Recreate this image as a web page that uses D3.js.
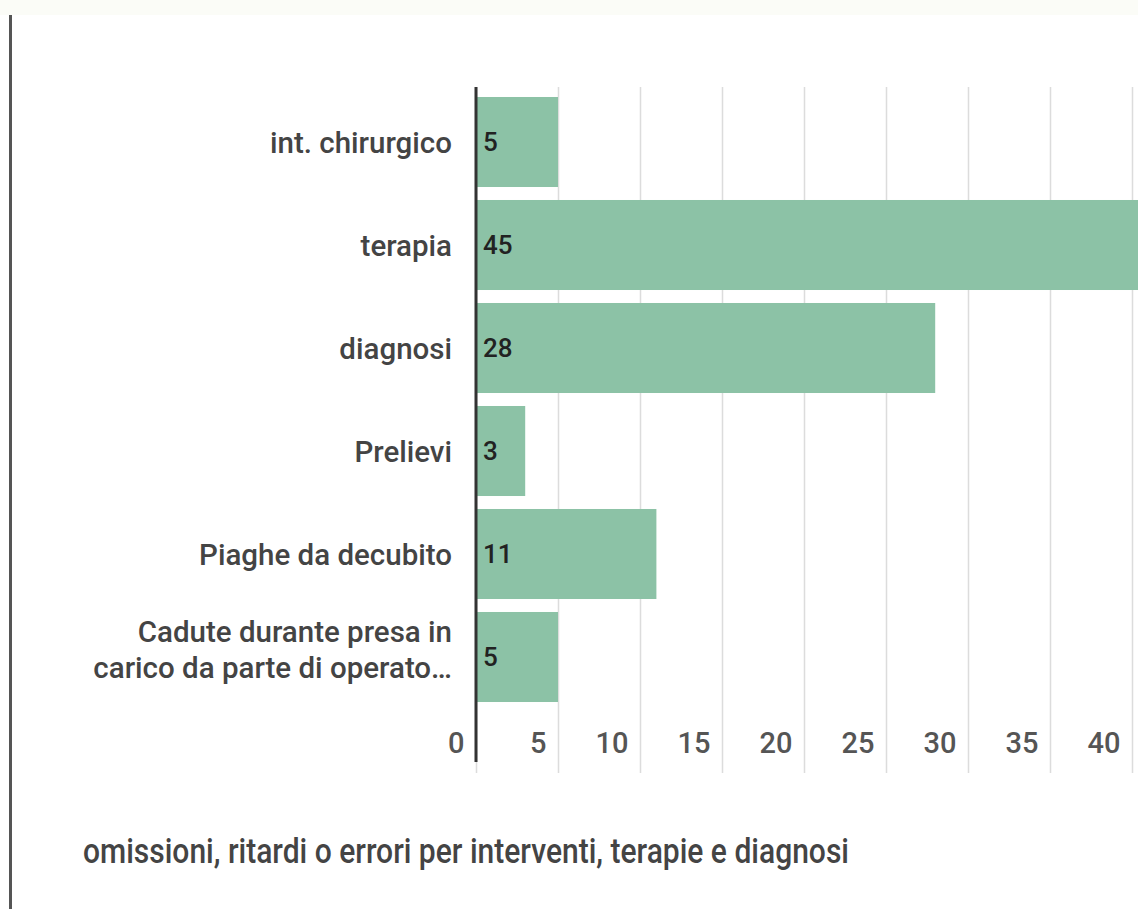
<!DOCTYPE html>
<html>
<head>
<meta charset="utf-8">
<script src="https://cdn.jsdelivr.net/npm/d3@7"></script>
<style>
  body { margin: 0; background: #ffffff; }
  svg { display: block; font-family: Roboto, "Noto Sans", sans-serif; }
</style>
</head>
<body>
<svg id="chart" width="1138" height="909"></svg>
<script>
// Categories (top to bottom) and their counts
const categories = [
  "int. chirurgico",
  "terapia",
  "diagnosi",
  "Prelievi",
  "Piaghe da decubito",
  "Cadute durante presa in carico da parte di operato…"
];
const values = [5, 45, 28, 3, 11, 5];
const tickValues = [0, 5, 10, 15, 20, 25, 30, 35, 40];
const title = "omissioni, ritardi o errori per interventi, terapie e diagnosi";

const W = 1138, H = 909;
const svg = d3.select("#chart");

// page chrome: pale strip on top and a dark rule on the left
svg.append("rect").attr("x", 0).attr("y", 0).attr("width", W).attr("height", 15).attr("fill", "#fbfcf7");
svg.append("line")
  .attr("x1", 10.5).attr("x2", 10.5).attr("y1", 15).attr("y2", H)
  .attr("stroke", "#555").attr("stroke-width", 3);

const x = d3.scaleLinear().domain([0, 40]).range([476, 1132]);
const y = d3.scaleBand().domain(categories).range([90.5, 708.5])
  .paddingInner(0.126).paddingOuter(0.063);

const gridTop = 87, gridBottom = 773;

// vertical gridlines
const grid = svg.append("g")
  .attr("transform", `translate(0,${gridBottom})`)
  .call(d3.axisBottom(x).tickValues(tickValues).tickSize(-(gridBottom - gridTop)).tickFormat(""));
grid.select(".domain").remove();
grid.selectAll(".tick line").attr("stroke", "#dcdcdc").attr("stroke-width", 1.5);

// bars
svg.append("g").selectAll("rect")
  .data(categories)
  .join("rect")
  .attr("x", x(0))
  .attr("y", d => y(d))
  .attr("width", (d, i) => x(values[i]) - x(0))
  .attr("height", y.bandwidth())
  .attr("fill", "#8cc2a6");

// value labels inside the bars
svg.append("g").selectAll("text")
  .data(categories)
  .join("text")
  .attr("x", x(0) + 7)
  .attr("y", d => y(d) + y.bandwidth() / 2)
  .attr("dy", "0.36em")
  .attr("font-size", 26)
  .attr("font-weight", 500)
  .attr("fill", "#222")
  .text((d, i) => values[i]);

// zero line
svg.append("line")
  .attr("x1", x(0)).attr("x2", x(0)).attr("y1", gridTop).attr("y2", 762)
  .attr("stroke", "#333").attr("stroke-width", 3);

// x tick labels, right-aligned just left of each gridline
const xt = svg.append("g")
  .call(d3.axisBottom(x).tickValues(tickValues).tickSize(0));
xt.select(".domain").remove();
xt.selectAll(".tick text")
  .attr("y", 753).attr("dy", 0).attr("dx", -12)
  .attr("text-anchor", "end")
  .attr("font-size", 29)
  .attr("font-weight", 500)
  .attr("font-family", "Roboto, sans-serif")
  .attr("fill", "#555");

// category labels
const yt = svg.append("g")
  .attr("transform", `translate(${x(0)},0)`)
  .call(d3.axisLeft(y).tickSize(0).tickPadding(24));
yt.select(".domain").remove();
yt.selectAll(".tick text")
  .attr("font-size", 29.5)
  .attr("font-weight", 500)
  .attr("font-family", "Roboto, sans-serif")
  .attr("fill", "#444")
  .each(function () { wrap(d3.select(this), 385); });

function wrap(text, maxWidth) {
  const words = text.text().split(/\s+/);
  const xPos = text.attr("x");
  text.text(null);
  const lines = [];
  let line = [];
  const probe = text.append("tspan");
  for (const w of words) {
    line.push(w);
    probe.text(line.join(" "));
    if (probe.node().getComputedTextLength() > maxWidth && line.length > 1) {
      line.pop();
      lines.push(line.join(" "));
      line = [w];
    }
  }
  lines.push(line.join(" "));
  probe.remove();
  const lh = 1.23;
  const first = lines.length === 1 ? 0.36 : -0.52;
  text.attr("dy", null);
  lines.forEach((l, i) => {
    text.append("tspan")
      .attr("x", xPos)
      .attr("dy", (i === 0 ? first : lh) + "em")
      .text(l);
  });
}

// chart title below the plot
svg.append("text")
  .attr("x", 83).attr("y", 863)
  .attr("font-size", 35)
  .attr("font-weight", 500)
  .attr("font-family", "Roboto, sans-serif")
  .attr("fill", "#444")
  .attr("textLength", 766)
  .attr("lengthAdjust", "spacingAndGlyphs")
  .text(title);
</script>
</body>
</html>
